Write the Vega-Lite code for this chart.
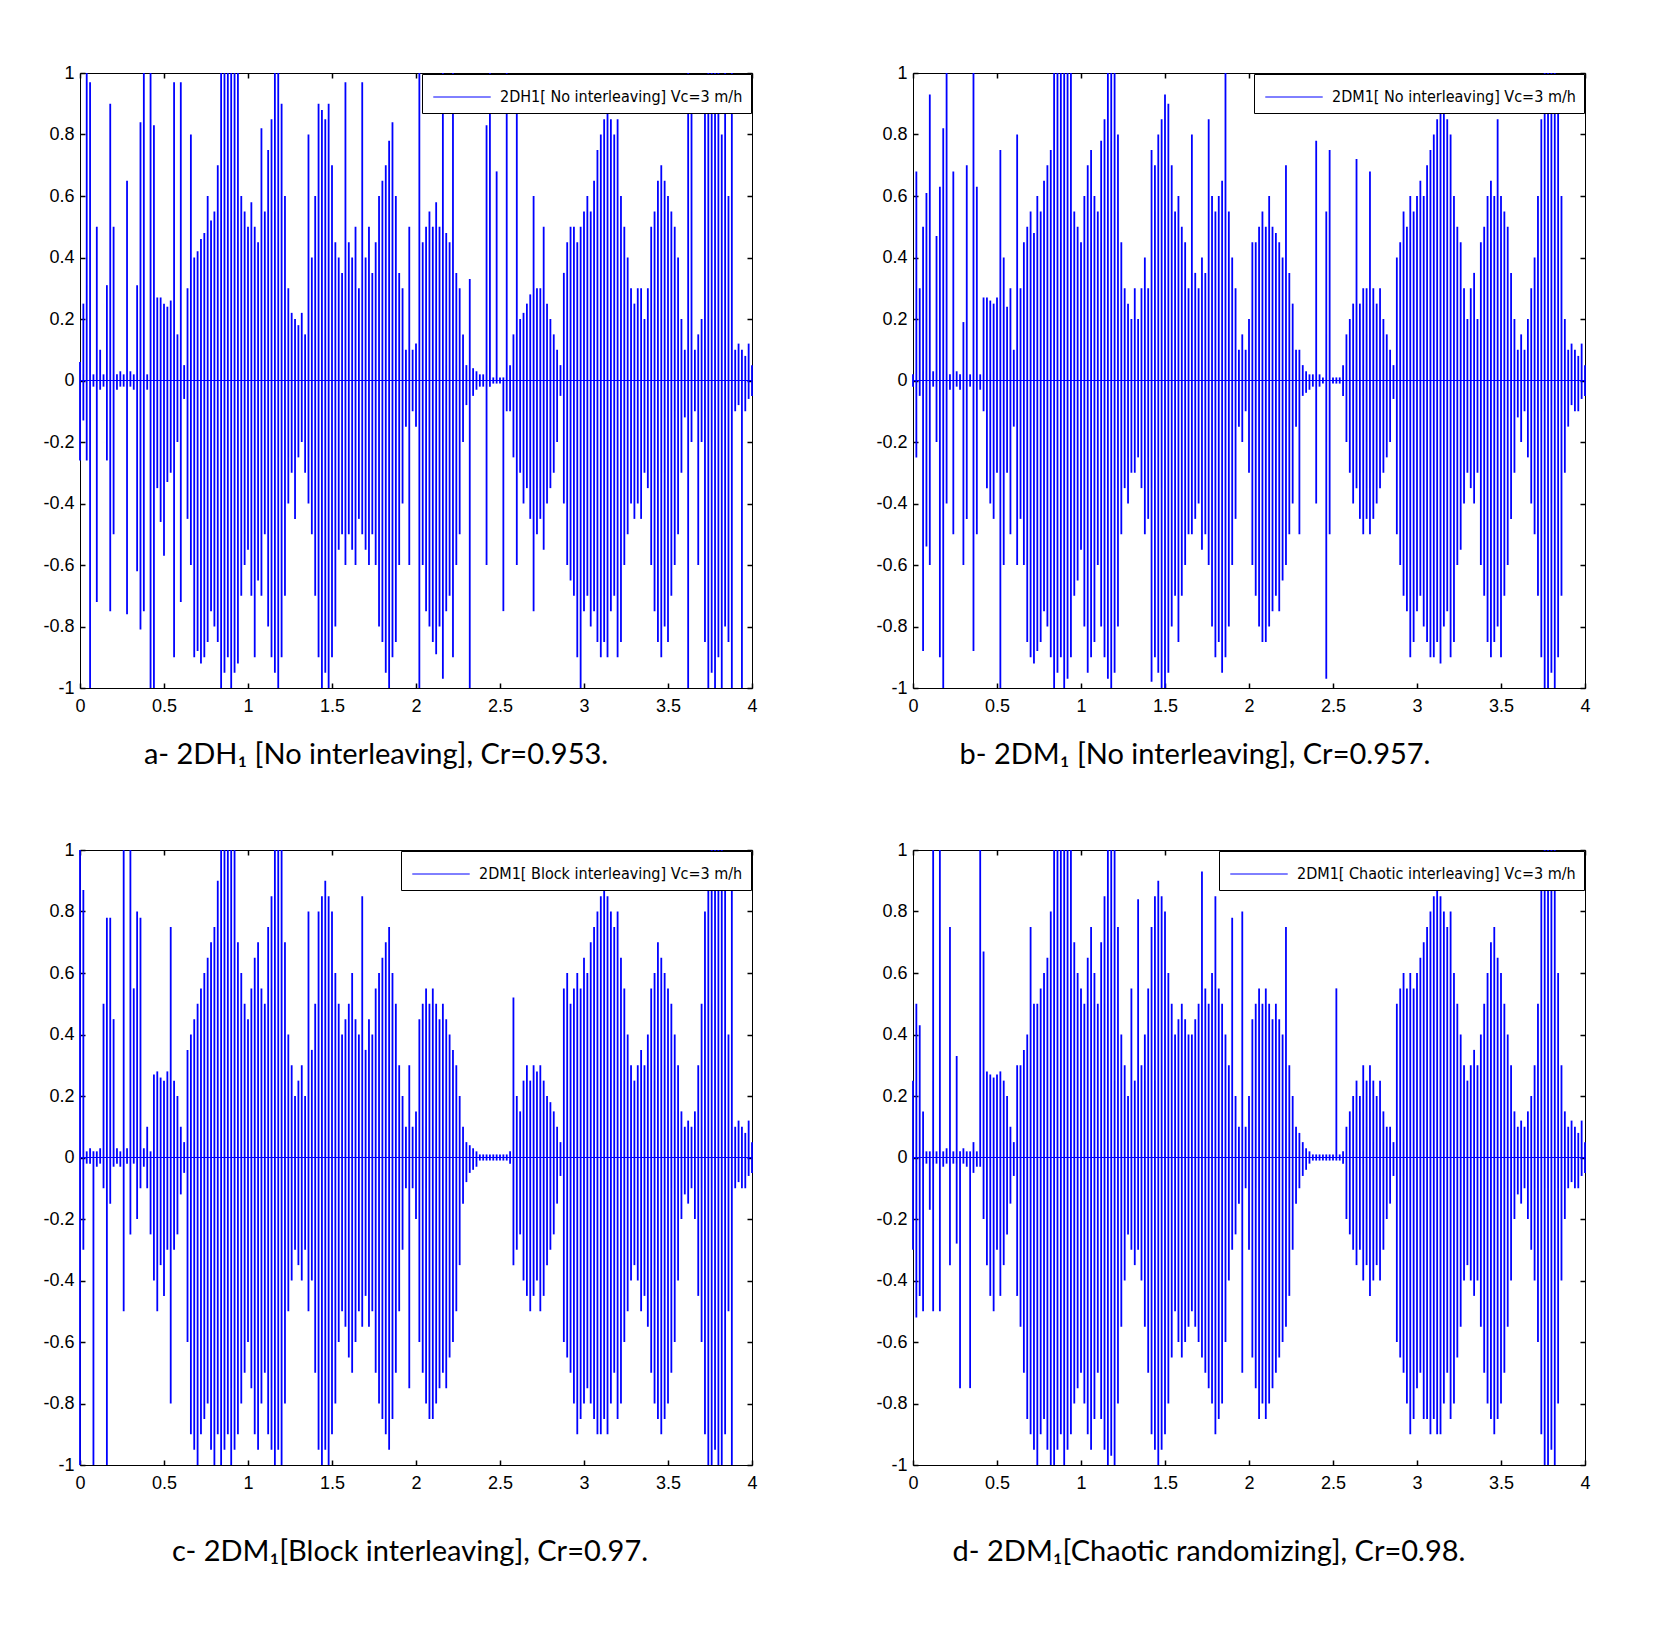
{
  "$schema": "https://vega.github.io/schema/vega-lite/v6.json",
  "background": "#ffffff",
  "padding": {"left": 42, "top": 64, "right": 5, "bottom": 5},
  "columns": 2,
  "spacing": {"column": 161, "row": 162},
  "bounds": "flush",
  "resolve": {"scale": {"color": "independent"}, "legend": {"color": "independent"}},
  "config": {
    "view": {"stroke": null},
    "axis": {
      "grid": false,
      "domainColor": "#000000",
      "domainWidth": 1,
      "tickColor": "#000000",
      "tickSize": -5,
      "tickWidth": 1.5,
      "labelColor": "#000000",
      "labelFont": "Liberation Sans",
      "labelFontSize": 18,
      "labelOverlap": false,
      "labelFlush": false
    },
    "legend": {
      "orient": "top-right",
      "offset": 1,
      "strokeColor": "#000000",
      "fillColor": "#ffffff",
      "padding": 8,
      "symbolType": "M-2,0H2",
      "symbolSize": 825,
      "symbolOffset": 17,
      "symbolStrokeWidth": 1,
      "labelFont": "Liberation Sans Narrow, DejaVu Sans Condensed, Liberation Sans",
      "labelFontSize": 16,
      "labelColor": "#000000",
      "labelLimit": 400,
      "labelOffset": 23
    },
    "title": {"font": "Lato", "fontSize": 29, "fontWeight": "normal", "color": "#000000", "orient": "bottom", "anchor": "middle"}
  },
  "datasets": {
    "a": [
      {"t":0.00,"hi":0.06,"lo":-0.26},{"t":0.02,"hi":0.25,"lo":-0.13},{"t":0.04,"hi":1.0,"lo":-0.26},{"t":0.06,"hi":0.97,"lo":-1.0},{"t":0.08,"hi":0.02,"lo":-0.02},
      {"t":0.10,"hi":0.5,"lo":-0.72},{"t":0.12,"hi":0.1,"lo":-0.03},{"t":0.14,"hi":0.02,"lo":-0.02},{"t":0.16,"hi":0.31,"lo":-0.26},{"t":0.18,"hi":0.9,"lo":-0.75},
      {"t":0.20,"hi":0.5,"lo":-0.5},{"t":0.22,"hi":0.02,"lo":-0.03},{"t":0.24,"hi":0.03,"lo":-0.02},{"t":0.26,"hi":0.02,"lo":-0.02},{"t":0.28,"hi":0.65,"lo":-0.76},
      {"t":0.30,"hi":0.03,"lo":-0.02},{"t":0.32,"hi":0.02,"lo":-0.03},{"t":0.34,"hi":0.31,"lo":-0.62},{"t":0.36,"hi":0.84,"lo":-0.81},{"t":0.38,"hi":1.0,"lo":-0.75},
      {"t":0.40,"hi":0.02,"lo":-0.03},{"t":0.42,"hi":1.0,"lo":-1.0},{"t":0.44,"hi":0.83,"lo":-1.0},{"t":0.46,"hi":0.27,"lo":-0.35},{"t":0.48,"hi":0.27,"lo":-0.46},
      {"t":0.50,"hi":0.25,"lo":-0.57},{"t":0.52,"hi":0.24,"lo":-0.33},{"t":0.54,"hi":0.26,"lo":-0.3},{"t":0.56,"hi":0.97,"lo":-0.9},{"t":0.58,"hi":0.15,"lo":-0.2},
      {"t":0.60,"hi":0.97,"lo":-0.72},{"t":0.62,"hi":0.05,"lo":-0.06},{"t":0.64,"hi":0.3,"lo":-0.45},{"t":0.66,"hi":0.8,"lo":-0.6},{"t":0.68,"hi":0.4,"lo":-0.9},
      {"t":0.70,"hi":0.42,"lo":-0.88},{"t":0.72,"hi":0.46,"lo":-0.92},{"t":0.74,"hi":0.48,"lo":-0.9},{"t":0.76,"hi":0.6,"lo":-0.85},{"t":0.78,"hi":0.52,"lo":-0.75},
      {"t":0.80,"hi":0.55,"lo":-0.8},{"t":0.82,"hi":0.7,"lo":-0.85},{"t":0.84,"hi":1.0,"lo":-1.0},{"t":0.86,"hi":1.0,"lo":-0.95},{"t":0.88,"hi":1.0,"lo":-0.9},
      {"t":0.90,"hi":1.0,"lo":-1.0},{"t":0.92,"hi":1.0,"lo":-0.95},{"t":0.94,"hi":1.0,"lo":-0.92},{"t":0.96,"hi":0.6,"lo":-0.7},{"t":0.98,"hi":0.55,"lo":-0.6},
      {"t":1.00,"hi":0.5,"lo":-0.55},{"t":1.02,"hi":0.58,"lo":-0.7},{"t":1.04,"hi":0.5,"lo":-0.9},{"t":1.06,"hi":0.45,"lo":-0.65},{"t":1.08,"hi":0.82,"lo":-0.7},
      {"t":1.10,"hi":0.55,"lo":-0.5},{"t":1.12,"hi":0.75,"lo":-0.8},{"t":1.14,"hi":0.85,"lo":-0.9},{"t":1.16,"hi":1.0,"lo":-0.95},{"t":1.18,"hi":1.0,"lo":-1.0},
      {"t":1.20,"hi":0.9,"lo":-0.9},{"t":1.22,"hi":0.6,"lo":-0.7},{"t":1.24,"hi":0.3,"lo":-0.4},{"t":1.26,"hi":0.22,"lo":-0.3},{"t":1.28,"hi":0.2,"lo":-0.45},
      {"t":1.30,"hi":0.18,"lo":-0.25},{"t":1.32,"hi":0.22,"lo":-0.2},{"t":1.34,"hi":0.15,"lo":-0.3},{"t":1.36,"hi":0.8,"lo":-0.4},{"t":1.38,"hi":0.4,"lo":-0.5},
      {"t":1.40,"hi":0.6,"lo":-0.7},{"t":1.42,"hi":0.9,"lo":-0.9},{"t":1.44,"hi":0.88,"lo":-1.0},{"t":1.46,"hi":0.85,"lo":-0.95},{"t":1.48,"hi":0.9,"lo":-1.0},
      {"t":1.50,"hi":0.7,"lo":-0.9},{"t":1.52,"hi":0.45,"lo":-0.8},{"t":1.54,"hi":0.4,"lo":-0.55},{"t":1.56,"hi":0.35,"lo":-0.5},{"t":1.58,"hi":0.97,"lo":-0.6},
      {"t":1.60,"hi":0.45,"lo":-0.5},{"t":1.62,"hi":0.4,"lo":-0.55},{"t":1.64,"hi":0.5,"lo":-0.6},{"t":1.66,"hi":0.3,"lo":-0.45},{"t":1.68,"hi":0.97,"lo":-0.5},
      {"t":1.70,"hi":0.4,"lo":-0.55},{"t":1.72,"hi":0.5,"lo":-0.6},{"t":1.74,"hi":0.35,"lo":-0.5},{"t":1.76,"hi":0.45,"lo":-0.6},{"t":1.78,"hi":0.6,"lo":-0.8},
      {"t":1.80,"hi":0.65,"lo":-0.85},{"t":1.82,"hi":0.7,"lo":-0.95},{"t":1.84,"hi":0.78,"lo":-1.0},{"t":1.86,"hi":0.84,"lo":-0.9},{"t":1.88,"hi":0.6,"lo":-0.85},
      {"t":1.90,"hi":0.35,"lo":-0.6},{"t":1.92,"hi":0.3,"lo":-0.4},{"t":1.94,"hi":0.1,"lo":-0.15},{"t":1.96,"hi":0.5,"lo":-0.6},{"t":1.98,"hi":0.1,"lo":-0.1},
      {"t":2.00,"hi":0.12,"lo":-0.15},{"t":2.02,"hi":1.0,"lo":-1.0},{"t":2.04,"hi":0.45,"lo":-0.6},{"t":2.06,"hi":0.5,"lo":-0.75},{"t":2.08,"hi":0.55,"lo":-0.8},
      {"t":2.10,"hi":0.5,"lo":-0.85},{"t":2.12,"hi":0.58,"lo":-0.89},{"t":2.14,"hi":0.5,"lo":-0.8},{"t":2.16,"hi":1.0,"lo":-0.97},{"t":2.18,"hi":0.48,"lo":-0.75},
      {"t":2.20,"hi":0.45,"lo":-0.7},{"t":2.22,"hi":1.0,"lo":-0.9},{"t":2.24,"hi":0.35,"lo":-0.6},{"t":2.26,"hi":0.3,"lo":-0.5},{"t":2.28,"hi":0.15,"lo":-0.2},
      {"t":2.30,"hi":0.05,"lo":-0.08},{"t":2.32,"hi":0.33,"lo":-1.0},{"t":2.34,"hi":0.04,"lo":-0.05},{"t":2.36,"hi":0.03,"lo":-0.03},{"t":2.38,"hi":0.02,"lo":-0.02},
      {"t":2.40,"hi":0.02,"lo":-0.02},{"t":2.42,"hi":0.83,"lo":-0.6},{"t":2.44,"hi":1.0,"lo":-0.02},{"t":2.46,"hi":0.01,"lo":-0.01},{"t":2.48,"hi":0.68,"lo":-0.01},
      {"t":2.50,"hi":0.01,"lo":-0.01},{"t":2.52,"hi":0.01,"lo":-0.75},{"t":2.54,"hi":1.0,"lo":-0.1},{"t":2.56,"hi":0.05,"lo":-0.1},{"t":2.58,"hi":0.15,"lo":-0.25},
      {"t":2.60,"hi":0.97,"lo":-0.6},{"t":2.62,"hi":0.2,"lo":-0.3},{"t":2.64,"hi":0.22,"lo":-0.4},{"t":2.66,"hi":0.25,"lo":-0.35},{"t":2.68,"hi":0.28,"lo":-0.45},
      {"t":2.70,"hi":0.6,"lo":-0.75},{"t":2.72,"hi":0.3,"lo":-0.5},{"t":2.74,"hi":0.3,"lo":-0.45},{"t":2.76,"hi":0.5,"lo":-0.55},{"t":2.78,"hi":0.25,"lo":-0.4},
      {"t":2.80,"hi":0.2,"lo":-0.35},{"t":2.82,"hi":0.15,"lo":-0.3},{"t":2.84,"hi":0.1,"lo":-0.2},{"t":2.86,"hi":0.05,"lo":-0.05},{"t":2.88,"hi":0.35,"lo":-0.4},
      {"t":2.90,"hi":0.45,"lo":-0.6},{"t":2.92,"hi":0.5,"lo":-0.65},{"t":2.94,"hi":0.5,"lo":-0.7},{"t":2.96,"hi":0.45,"lo":-0.9},{"t":2.98,"hi":0.5,"lo":-1.0},
      {"t":3.00,"hi":0.55,"lo":-0.75},{"t":3.02,"hi":0.6,"lo":-0.7},{"t":3.04,"hi":0.55,"lo":-0.8},{"t":3.06,"hi":0.65,"lo":-0.75},{"t":3.08,"hi":0.75,"lo":-0.85},
      {"t":3.10,"hi":0.8,"lo":-0.9},{"t":3.12,"hi":0.85,"lo":-0.85},{"t":3.14,"hi":0.88,"lo":-0.9},{"t":3.16,"hi":0.85,"lo":-0.75},{"t":3.18,"hi":0.8,"lo":-0.7},
      {"t":3.20,"hi":0.85,"lo":-0.9},{"t":3.22,"hi":0.6,"lo":-0.85},{"t":3.24,"hi":0.5,"lo":-0.6},{"t":3.26,"hi":0.4,"lo":-0.5},{"t":3.28,"hi":0.3,"lo":-0.4},
      {"t":3.30,"hi":0.25,"lo":-0.45},{"t":3.32,"hi":0.3,"lo":-0.4},{"t":3.34,"hi":0.3,"lo":-0.45},{"t":3.36,"hi":0.2,"lo":-0.3},{"t":3.38,"hi":0.3,"lo":-0.35},
      {"t":3.40,"hi":0.5,"lo":-0.6},{"t":3.42,"hi":0.55,"lo":-0.75},{"t":3.44,"hi":0.65,"lo":-0.85},{"t":3.46,"hi":0.7,"lo":-0.9},{"t":3.48,"hi":0.65,"lo":-0.8},
      {"t":3.50,"hi":0.6,"lo":-0.85},{"t":3.52,"hi":0.55,"lo":-0.7},{"t":3.54,"hi":0.5,"lo":-0.6},{"t":3.56,"hi":0.4,"lo":-0.5},{"t":3.58,"hi":0.2,"lo":-0.3},
      {"t":3.60,"hi":0.1,"lo":-0.12},{"t":3.62,"hi":1.0,"lo":-1.0},{"t":3.64,"hi":0.97,"lo":-0.2},{"t":3.66,"hi":0.1,"lo":-0.1},{"t":3.68,"hi":0.15,"lo":-0.6},
      {"t":3.70,"hi":0.2,"lo":-0.2},{"t":3.72,"hi":0.9,"lo":-0.85},{"t":3.74,"hi":1.0,"lo":-1.0},{"t":3.76,"hi":1.0,"lo":-0.95},{"t":3.78,"hi":1.0,"lo":-1.0},
      {"t":3.80,"hi":1.0,"lo":-0.9},{"t":3.82,"hi":0.8,"lo":-1.0},{"t":3.84,"hi":1.0,"lo":-0.8},{"t":3.86,"hi":0.6,"lo":-0.85},{"t":3.88,"hi":1.0,"lo":-1.0},
      {"t":3.90,"hi":0.1,"lo":-0.1},{"t":3.92,"hi":0.12,"lo":-0.08},{"t":3.94,"hi":0.1,"lo":-1.0},{"t":3.96,"hi":0.08,"lo":-0.1},{"t":3.98,"hi":0.12,"lo":-0.06},
      {"t":4.00,"hi":0.05,"lo":-0.05}
    ],
    "b": [
      {"t":0.00,"hi":0.02,"lo":-0.02},{"t":0.02,"hi":0.68,"lo":-0.25},{"t":0.04,"hi":0.3,"lo":-0.05},{"t":0.06,"hi":0.5,"lo":-0.88},{"t":0.08,"hi":0.61,"lo":-0.54},
      {"t":0.10,"hi":0.93,"lo":-0.6},{"t":0.12,"hi":0.03,"lo":-0.02},{"t":0.14,"hi":0.47,"lo":-0.2},{"t":0.16,"hi":0.63,"lo":-0.9},{"t":0.18,"hi":0.82,"lo":-1.0},
      {"t":0.20,"hi":1.0,"lo":-0.4},{"t":0.22,"hi":0.02,"lo":-0.03},{"t":0.24,"hi":0.68,"lo":-0.5},{"t":0.26,"hi":0.03,"lo":-0.02},{"t":0.28,"hi":0.02,"lo":-0.03},
      {"t":0.30,"hi":0.19,"lo":-0.6},{"t":0.32,"hi":0.7,"lo":-0.45},{"t":0.34,"hi":0.02,"lo":-0.02},{"t":0.36,"hi":1.0,"lo":-0.88},{"t":0.38,"hi":0.63,"lo":-0.5},
      {"t":0.40,"hi":0.02,"lo":-0.03},{"t":0.42,"hi":0.27,"lo":-0.1},{"t":0.44,"hi":0.27,"lo":-0.35},{"t":0.46,"hi":0.26,"lo":-0.4},{"t":0.48,"hi":0.25,"lo":-0.45},
      {"t":0.50,"hi":0.27,"lo":-0.3},{"t":0.52,"hi":0.75,"lo":-1.0},{"t":0.54,"hi":0.4,"lo":-0.6},{"t":0.56,"hi":0.24,"lo":-0.3},{"t":0.58,"hi":0.3,"lo":-0.5},
      {"t":0.60,"hi":0.1,"lo":-0.15},{"t":0.62,"hi":0.8,"lo":-0.6},{"t":0.64,"hi":0.3,"lo":-0.45},{"t":0.66,"hi":0.45,"lo":-0.6},{"t":0.68,"hi":0.5,"lo":-0.85},
      {"t":0.70,"hi":0.55,"lo":-0.9},{"t":0.72,"hi":0.48,"lo":-0.92},{"t":0.74,"hi":0.6,"lo":-0.88},{"t":0.76,"hi":0.55,"lo":-0.85},{"t":0.78,"hi":0.65,"lo":-0.75},
      {"t":0.80,"hi":0.7,"lo":-0.8},{"t":0.82,"hi":0.75,"lo":-0.9},{"t":0.84,"hi":1.0,"lo":-1.0},{"t":0.86,"hi":1.0,"lo":-0.95},{"t":0.88,"hi":1.0,"lo":-0.9},
      {"t":0.90,"hi":1.0,"lo":-1.0},{"t":0.92,"hi":1.0,"lo":-0.97},{"t":0.94,"hi":1.0,"lo":-0.9},{"t":0.96,"hi":0.55,"lo":-0.7},{"t":0.98,"hi":0.5,"lo":-0.65},
      {"t":1.00,"hi":0.45,"lo":-0.55},{"t":1.02,"hi":0.6,"lo":-0.8},{"t":1.04,"hi":0.7,"lo":-0.95},{"t":1.06,"hi":0.75,"lo":-0.9},{"t":1.08,"hi":0.6,"lo":-0.85},
      {"t":1.10,"hi":0.55,"lo":-0.6},{"t":1.12,"hi":0.78,"lo":-0.8},{"t":1.14,"hi":0.85,"lo":-0.9},{"t":1.16,"hi":1.0,"lo":-0.97},{"t":1.18,"hi":1.0,"lo":-1.0},
      {"t":1.20,"hi":1.0,"lo":-0.95},{"t":1.22,"hi":0.8,"lo":-0.8},{"t":1.24,"hi":0.45,"lo":-0.5},{"t":1.26,"hi":0.3,"lo":-0.35},{"t":1.28,"hi":0.25,"lo":-0.4},
      {"t":1.30,"hi":0.2,"lo":-0.3},{"t":1.32,"hi":0.3,"lo":-0.3},{"t":1.34,"hi":0.2,"lo":-0.25},{"t":1.36,"hi":0.3,"lo":-0.35},{"t":1.38,"hi":0.4,"lo":-0.5},
      {"t":1.40,"hi":0.3,"lo":-0.45},{"t":1.42,"hi":0.75,"lo":-0.98},{"t":1.44,"hi":0.7,"lo":-0.9},{"t":1.46,"hi":0.8,"lo":-0.95},{"t":1.48,"hi":0.85,"lo":-1.0},
      {"t":1.50,"hi":0.93,"lo":-1.0},{"t":1.52,"hi":0.9,"lo":-0.95},{"t":1.54,"hi":0.7,"lo":-0.8},{"t":1.56,"hi":0.55,"lo":-0.7},{"t":1.58,"hi":0.6,"lo":-0.85},
      {"t":1.60,"hi":0.5,"lo":-0.7},{"t":1.62,"hi":0.45,"lo":-0.6},{"t":1.64,"hi":0.3,"lo":-0.5},{"t":1.66,"hi":0.8,"lo":-0.5},{"t":1.68,"hi":0.35,"lo":-0.45},
      {"t":1.70,"hi":0.3,"lo":-0.4},{"t":1.72,"hi":0.4,"lo":-0.55},{"t":1.74,"hi":0.35,"lo":-0.5},{"t":1.76,"hi":0.85,"lo":-0.6},{"t":1.78,"hi":0.6,"lo":-0.8},
      {"t":1.80,"hi":0.55,"lo":-0.9},{"t":1.82,"hi":0.6,"lo":-0.85},{"t":1.84,"hi":0.65,"lo":-0.95},{"t":1.86,"hi":1.0,"lo":-0.9},{"t":1.88,"hi":0.55,"lo":-0.8},
      {"t":1.90,"hi":0.4,"lo":-0.6},{"t":1.92,"hi":0.3,"lo":-0.45},{"t":1.94,"hi":0.1,"lo":-0.15},{"t":1.96,"hi":0.15,"lo":-0.2},{"t":1.98,"hi":0.1,"lo":-0.1},
      {"t":2.00,"hi":0.2,"lo":-0.3},{"t":2.02,"hi":0.45,"lo":-0.6},{"t":2.04,"hi":0.45,"lo":-0.7},{"t":2.06,"hi":0.5,"lo":-0.8},{"t":2.08,"hi":0.55,"lo":-0.85},
      {"t":2.10,"hi":0.5,"lo":-0.85},{"t":2.12,"hi":0.6,"lo":-0.8},{"t":2.14,"hi":0.5,"lo":-0.75},{"t":2.16,"hi":0.48,"lo":-0.7},{"t":2.18,"hi":0.45,"lo":-0.75},
      {"t":2.20,"hi":0.4,"lo":-0.65},{"t":2.22,"hi":0.7,"lo":-0.6},{"t":2.24,"hi":0.35,"lo":-0.5},{"t":2.26,"hi":0.25,"lo":-0.4},{"t":2.28,"hi":0.1,"lo":-0.15},
      {"t":2.30,"hi":0.1,"lo":-0.5},{"t":2.32,"hi":0.05,"lo":-0.05},{"t":2.34,"hi":0.03,"lo":-0.04},{"t":2.36,"hi":0.02,"lo":-0.03},{"t":2.38,"hi":0.02,"lo":-0.02},
      {"t":2.40,"hi":0.78,"lo":-0.4},{"t":2.42,"hi":0.02,"lo":-0.02},{"t":2.44,"hi":0.01,"lo":-0.01},{"t":2.46,"hi":0.55,"lo":-0.97},{"t":2.48,"hi":0.75,"lo":-0.5},
      {"t":2.50,"hi":0.01,"lo":-0.01},{"t":2.52,"hi":0.01,"lo":-0.01},{"t":2.54,"hi":0.01,"lo":-0.01},{"t":2.56,"hi":0.05,"lo":-0.05},{"t":2.58,"hi":0.15,"lo":-0.2},
      {"t":2.60,"hi":0.2,"lo":-0.3},{"t":2.62,"hi":0.25,"lo":-0.4},{"t":2.64,"hi":0.72,"lo":-0.35},{"t":2.66,"hi":0.25,"lo":-0.45},{"t":2.68,"hi":0.3,"lo":-0.5},
      {"t":2.70,"hi":0.3,"lo":-0.45},{"t":2.72,"hi":0.68,"lo":-0.5},{"t":2.74,"hi":0.3,"lo":-0.45},{"t":2.76,"hi":0.25,"lo":-0.4},{"t":2.78,"hi":0.3,"lo":-0.35},
      {"t":2.80,"hi":0.2,"lo":-0.3},{"t":2.82,"hi":0.15,"lo":-0.25},{"t":2.84,"hi":0.1,"lo":-0.2},{"t":2.86,"hi":0.05,"lo":-0.06},{"t":2.88,"hi":0.4,"lo":-0.5},
      {"t":2.90,"hi":0.45,"lo":-0.6},{"t":2.92,"hi":0.55,"lo":-0.7},{"t":2.94,"hi":0.5,"lo":-0.75},{"t":2.96,"hi":0.6,"lo":-0.9},{"t":2.98,"hi":0.55,"lo":-0.85},
      {"t":3.00,"hi":0.6,"lo":-0.75},{"t":3.02,"hi":0.65,"lo":-0.7},{"t":3.04,"hi":0.6,"lo":-0.8},{"t":3.06,"hi":0.7,"lo":-0.85},{"t":3.08,"hi":0.75,"lo":-0.9},
      {"t":3.10,"hi":0.8,"lo":-0.9},{"t":3.12,"hi":0.85,"lo":-0.85},{"t":3.14,"hi":0.88,"lo":-0.92},{"t":3.16,"hi":0.9,"lo":-0.8},{"t":3.18,"hi":0.85,"lo":-0.75},
      {"t":3.20,"hi":0.8,"lo":-0.9},{"t":3.22,"hi":0.6,"lo":-0.85},{"t":3.24,"hi":0.5,"lo":-0.6},{"t":3.26,"hi":0.45,"lo":-0.55},{"t":3.28,"hi":0.3,"lo":-0.4},
      {"t":3.30,"hi":0.2,"lo":-0.3},{"t":3.32,"hi":0.3,"lo":-0.35},{"t":3.34,"hi":0.35,"lo":-0.4},{"t":3.36,"hi":0.2,"lo":-0.3},{"t":3.38,"hi":0.45,"lo":-0.6},
      {"t":3.40,"hi":0.5,"lo":-0.7},{"t":3.42,"hi":0.6,"lo":-0.85},{"t":3.44,"hi":0.65,"lo":-0.9},{"t":3.46,"hi":0.6,"lo":-0.85},{"t":3.48,"hi":0.85,"lo":-0.8},
      {"t":3.50,"hi":0.6,"lo":-0.9},{"t":3.52,"hi":0.55,"lo":-0.7},{"t":3.54,"hi":0.5,"lo":-0.6},{"t":3.56,"hi":0.35,"lo":-0.45},{"t":3.58,"hi":0.2,"lo":-0.3},
      {"t":3.60,"hi":0.1,"lo":-0.12},{"t":3.62,"hi":0.15,"lo":-0.2},{"t":3.64,"hi":0.1,"lo":-0.1},{"t":3.66,"hi":0.2,"lo":-0.25},{"t":3.68,"hi":0.3,"lo":-0.4},
      {"t":3.70,"hi":0.4,"lo":-0.5},{"t":3.72,"hi":0.6,"lo":-0.7},{"t":3.74,"hi":0.85,"lo":-0.9},{"t":3.76,"hi":1.0,"lo":-1.0},{"t":3.78,"hi":1.0,"lo":-1.0},
      {"t":3.80,"hi":1.0,"lo":-0.95},{"t":3.82,"hi":1.0,"lo":-1.0},{"t":3.84,"hi":0.9,"lo":-0.9},{"t":3.86,"hi":0.6,"lo":-0.7},{"t":3.88,"hi":0.2,"lo":-0.3},
      {"t":3.90,"hi":0.1,"lo":-0.15},{"t":3.92,"hi":0.12,"lo":-0.08},{"t":3.94,"hi":0.1,"lo":-0.1},{"t":3.96,"hi":0.08,"lo":-0.1},{"t":3.98,"hi":0.12,"lo":-0.06},
      {"t":4.00,"hi":0.05,"lo":-0.05}
    ],
    "c": [
      {"t":0.00,"hi":1.0,"lo":-1.0},{"t":0.02,"hi":0.87,"lo":-0.3},{"t":0.04,"hi":0.02,"lo":-0.02},{"t":0.06,"hi":0.03,"lo":-0.02},{"t":0.08,"hi":0.02,"lo":-1.0},
      {"t":0.10,"hi":0.02,"lo":-0.03},{"t":0.12,"hi":0.03,"lo":-0.02},{"t":0.14,"hi":0.5,"lo":-0.1},{"t":0.16,"hi":0.78,"lo":-1.0},{"t":0.18,"hi":0.78,"lo":-0.15},
      {"t":0.20,"hi":0.45,"lo":-0.03},{"t":0.22,"hi":0.03,"lo":-0.02},{"t":0.24,"hi":0.02,"lo":-0.03},{"t":0.26,"hi":1.0,"lo":-0.5},{"t":0.28,"hi":0.03,"lo":-0.02},
      {"t":0.30,"hi":1.0,"lo":-0.25},{"t":0.32,"hi":0.55,"lo":-0.02},{"t":0.34,"hi":0.8,"lo":-0.2},{"t":0.36,"hi":0.78,"lo":-0.1},{"t":0.38,"hi":0.03,"lo":-0.03},
      {"t":0.40,"hi":0.1,"lo":-0.1},{"t":0.42,"hi":0.02,"lo":-0.25},{"t":0.44,"hi":0.27,"lo":-0.4},{"t":0.46,"hi":0.28,"lo":-0.5},{"t":0.48,"hi":0.26,"lo":-0.35},
      {"t":0.50,"hi":0.25,"lo":-0.45},{"t":0.52,"hi":0.28,"lo":-0.3},{"t":0.54,"hi":0.75,"lo":-0.8},{"t":0.56,"hi":0.25,"lo":-0.3},{"t":0.58,"hi":0.2,"lo":-0.25},
      {"t":0.60,"hi":0.1,"lo":-0.12},{"t":0.62,"hi":0.05,"lo":-0.05},{"t":0.64,"hi":0.35,"lo":-0.6},{"t":0.66,"hi":0.4,"lo":-0.9},{"t":0.68,"hi":0.45,"lo":-0.95},
      {"t":0.70,"hi":0.5,"lo":-1.0},{"t":0.72,"hi":0.55,"lo":-0.9},{"t":0.74,"hi":0.6,"lo":-0.85},{"t":0.76,"hi":0.65,"lo":-0.8},{"t":0.78,"hi":0.7,"lo":-0.95},
      {"t":0.80,"hi":0.75,"lo":-1.0},{"t":0.82,"hi":0.9,"lo":-0.9},{"t":0.84,"hi":1.0,"lo":-1.0},{"t":0.86,"hi":1.0,"lo":-0.95},{"t":0.88,"hi":1.0,"lo":-0.9},
      {"t":0.90,"hi":1.0,"lo":-1.0},{"t":0.92,"hi":1.0,"lo":-0.95},{"t":0.94,"hi":0.7,"lo":-0.9},{"t":0.96,"hi":0.6,"lo":-0.8},{"t":0.98,"hi":0.5,"lo":-0.7},
      {"t":1.00,"hi":0.45,"lo":-0.6},{"t":1.02,"hi":0.55,"lo":-0.75},{"t":1.04,"hi":0.65,"lo":-0.9},{"t":1.06,"hi":0.7,"lo":-0.95},{"t":1.08,"hi":0.55,"lo":-0.8},
      {"t":1.10,"hi":0.5,"lo":-0.7},{"t":1.12,"hi":0.75,"lo":-0.9},{"t":1.14,"hi":0.85,"lo":-0.95},{"t":1.16,"hi":1.0,"lo":-1.0},{"t":1.18,"hi":1.0,"lo":-0.95},
      {"t":1.20,"hi":1.0,"lo":-1.0},{"t":1.22,"hi":0.7,"lo":-0.8},{"t":1.24,"hi":0.4,"lo":-0.5},{"t":1.26,"hi":0.3,"lo":-0.4},{"t":1.28,"hi":0.2,"lo":-0.3},
      {"t":1.30,"hi":0.25,"lo":-0.35},{"t":1.32,"hi":0.3,"lo":-0.4},{"t":1.34,"hi":0.2,"lo":-0.3},{"t":1.36,"hi":0.8,"lo":-0.5},{"t":1.38,"hi":0.35,"lo":-0.4},
      {"t":1.40,"hi":0.5,"lo":-0.7},{"t":1.42,"hi":0.8,"lo":-0.95},{"t":1.44,"hi":0.85,"lo":-1.0},{"t":1.46,"hi":0.9,"lo":-0.95},{"t":1.48,"hi":0.85,"lo":-1.0},
      {"t":1.50,"hi":0.8,"lo":-0.9},{"t":1.52,"hi":0.6,"lo":-0.8},{"t":1.54,"hi":0.5,"lo":-0.6},{"t":1.56,"hi":0.4,"lo":-0.5},{"t":1.58,"hi":0.45,"lo":-0.55},
      {"t":1.60,"hi":0.5,"lo":-0.65},{"t":1.62,"hi":0.6,"lo":-0.7},{"t":1.64,"hi":0.45,"lo":-0.6},{"t":1.66,"hi":0.4,"lo":-0.5},{"t":1.68,"hi":0.85,"lo":-0.55},
      {"t":1.70,"hi":0.35,"lo":-0.45},{"t":1.72,"hi":0.45,"lo":-0.55},{"t":1.74,"hi":0.4,"lo":-0.5},{"t":1.76,"hi":0.55,"lo":-0.7},{"t":1.78,"hi":0.6,"lo":-0.8},
      {"t":1.80,"hi":0.65,"lo":-0.85},{"t":1.82,"hi":0.7,"lo":-0.9},{"t":1.84,"hi":0.75,"lo":-0.95},{"t":1.86,"hi":0.6,"lo":-0.85},{"t":1.88,"hi":0.5,"lo":-0.7},
      {"t":1.90,"hi":0.3,"lo":-0.5},{"t":1.92,"hi":0.2,"lo":-0.3},{"t":1.94,"hi":0.1,"lo":-0.1},{"t":1.96,"hi":0.3,"lo":-0.75},{"t":1.98,"hi":0.1,"lo":-0.1},
      {"t":2.00,"hi":0.15,"lo":-0.2},{"t":2.02,"hi":0.45,"lo":-0.6},{"t":2.04,"hi":0.5,"lo":-0.7},{"t":2.06,"hi":0.55,"lo":-0.8},{"t":2.08,"hi":0.5,"lo":-0.85},
      {"t":2.10,"hi":0.55,"lo":-0.85},{"t":2.12,"hi":0.5,"lo":-0.8},{"t":2.14,"hi":0.45,"lo":-0.75},{"t":2.16,"hi":0.5,"lo":-0.7},{"t":2.18,"hi":0.45,"lo":-0.75},
      {"t":2.20,"hi":0.4,"lo":-0.65},{"t":2.22,"hi":0.35,"lo":-0.6},{"t":2.24,"hi":0.3,"lo":-0.5},{"t":2.26,"hi":0.2,"lo":-0.35},{"t":2.28,"hi":0.1,"lo":-0.15},
      {"t":2.30,"hi":0.05,"lo":-0.08},{"t":2.32,"hi":0.04,"lo":-0.05},{"t":2.34,"hi":0.03,"lo":-0.04},{"t":2.36,"hi":0.02,"lo":-0.03},{"t":2.38,"hi":0.01,"lo":-0.01},
      {"t":2.40,"hi":0.01,"lo":-0.01},{"t":2.42,"hi":0.01,"lo":-0.01},{"t":2.44,"hi":0.01,"lo":-0.01},{"t":2.46,"hi":0.01,"lo":-0.01},{"t":2.48,"hi":0.01,"lo":-0.01},
      {"t":2.50,"hi":0.01,"lo":-0.01},{"t":2.52,"hi":0.01,"lo":-0.01},{"t":2.54,"hi":0.01,"lo":-0.01},{"t":2.56,"hi":0.02,"lo":-0.02},{"t":2.58,"hi":0.52,"lo":-0.35},
      {"t":2.60,"hi":0.2,"lo":-0.3},{"t":2.62,"hi":0.15,"lo":-0.25},{"t":2.64,"hi":0.25,"lo":-0.4},{"t":2.66,"hi":0.3,"lo":-0.45},{"t":2.68,"hi":0.25,"lo":-0.5},
      {"t":2.70,"hi":0.3,"lo":-0.45},{"t":2.72,"hi":0.28,"lo":-0.4},{"t":2.74,"hi":0.3,"lo":-0.5},{"t":2.76,"hi":0.25,"lo":-0.45},{"t":2.78,"hi":0.2,"lo":-0.35},
      {"t":2.80,"hi":0.18,"lo":-0.3},{"t":2.82,"hi":0.15,"lo":-0.25},{"t":2.84,"hi":0.1,"lo":-0.15},{"t":2.86,"hi":0.05,"lo":-0.06},{"t":2.88,"hi":0.55,"lo":-0.6},
      {"t":2.90,"hi":0.6,"lo":-0.65},{"t":2.92,"hi":0.5,"lo":-0.7},{"t":2.94,"hi":0.55,"lo":-0.8},{"t":2.96,"hi":0.6,"lo":-0.9},{"t":2.98,"hi":0.55,"lo":-0.85},
      {"t":3.00,"hi":0.65,"lo":-0.8},{"t":3.02,"hi":0.6,"lo":-0.75},{"t":3.04,"hi":0.7,"lo":-0.8},{"t":3.06,"hi":0.75,"lo":-0.85},{"t":3.08,"hi":0.8,"lo":-0.9},
      {"t":3.10,"hi":0.85,"lo":-0.9},{"t":3.12,"hi":0.9,"lo":-0.85},{"t":3.14,"hi":0.85,"lo":-0.9},{"t":3.16,"hi":0.8,"lo":-0.8},{"t":3.18,"hi":0.75,"lo":-0.7},
      {"t":3.20,"hi":0.8,"lo":-0.85},{"t":3.22,"hi":0.65,"lo":-0.8},{"t":3.24,"hi":0.55,"lo":-0.6},{"t":3.26,"hi":0.4,"lo":-0.5},{"t":3.28,"hi":0.3,"lo":-0.4},
      {"t":3.30,"hi":0.25,"lo":-0.35},{"t":3.32,"hi":0.3,"lo":-0.4},{"t":3.34,"hi":0.35,"lo":-0.5},{"t":3.36,"hi":0.3,"lo":-0.45},{"t":3.38,"hi":0.4,"lo":-0.55},
      {"t":3.40,"hi":0.55,"lo":-0.7},{"t":3.42,"hi":0.6,"lo":-0.8},{"t":3.44,"hi":0.7,"lo":-0.85},{"t":3.46,"hi":0.65,"lo":-0.9},{"t":3.48,"hi":0.6,"lo":-0.85},
      {"t":3.50,"hi":0.55,"lo":-0.8},{"t":3.52,"hi":0.5,"lo":-0.7},{"t":3.54,"hi":0.4,"lo":-0.6},{"t":3.56,"hi":0.3,"lo":-0.4},{"t":3.58,"hi":0.15,"lo":-0.2},
      {"t":3.60,"hi":0.1,"lo":-0.12},{"t":3.62,"hi":0.12,"lo":-0.15},{"t":3.64,"hi":0.1,"lo":-0.1},{"t":3.66,"hi":0.15,"lo":-0.2},{"t":3.68,"hi":0.3,"lo":-0.45},
      {"t":3.70,"hi":0.5,"lo":-0.6},{"t":3.72,"hi":0.8,"lo":-0.9},{"t":3.74,"hi":0.9,"lo":-1.0},{"t":3.76,"hi":1.0,"lo":-1.0},{"t":3.78,"hi":1.0,"lo":-0.95},
      {"t":3.80,"hi":1.0,"lo":-1.0},{"t":3.82,"hi":1.0,"lo":-1.0},{"t":3.84,"hi":0.9,"lo":-0.9},{"t":3.86,"hi":0.4,"lo":-0.5},{"t":3.88,"hi":0.9,"lo":-1.0},
      {"t":3.90,"hi":0.1,"lo":-0.1},{"t":3.92,"hi":0.12,"lo":-0.08},{"t":3.94,"hi":0.1,"lo":-0.1},{"t":3.96,"hi":0.08,"lo":-0.1},{"t":3.98,"hi":0.12,"lo":-0.06},
      {"t":4.00,"hi":0.05,"lo":-0.05}
    ],
    "d": [
      {"t":0.00,"hi":0.25,"lo":-0.3},{"t":0.02,"hi":0.5,"lo":-0.52},{"t":0.04,"hi":0.43,"lo":-0.45},{"t":0.06,"hi":0.15,"lo":-0.5},{"t":0.08,"hi":0.02,"lo":-0.02},
      {"t":0.10,"hi":0.02,"lo":-0.17},{"t":0.12,"hi":1.0,"lo":-0.5},{"t":0.14,"hi":0.02,"lo":-0.02},{"t":0.16,"hi":1.0,"lo":-0.5},{"t":0.18,"hi":0.02,"lo":-0.03},
      {"t":0.20,"hi":0.03,"lo":-0.02},{"t":0.22,"hi":0.75,"lo":-0.35},{"t":0.24,"hi":0.02,"lo":-0.02},{"t":0.26,"hi":0.33,"lo":-0.28},{"t":0.28,"hi":0.02,"lo":-0.75},
      {"t":0.30,"hi":0.03,"lo":-0.02},{"t":0.32,"hi":0.02,"lo":-0.03},{"t":0.34,"hi":0.02,"lo":-0.75},{"t":0.36,"hi":0.05,"lo":-0.05},{"t":0.38,"hi":0.02,"lo":-0.03},
      {"t":0.40,"hi":1.0,"lo":-0.03},{"t":0.42,"hi":0.67,"lo":-0.2},{"t":0.44,"hi":0.28,"lo":-0.35},{"t":0.46,"hi":0.27,"lo":-0.45},{"t":0.48,"hi":0.26,"lo":-0.5},
      {"t":0.50,"hi":0.27,"lo":-0.3},{"t":0.52,"hi":0.28,"lo":-0.45},{"t":0.54,"hi":0.25,"lo":-0.35},{"t":0.56,"hi":0.2,"lo":-0.25},{"t":0.58,"hi":0.1,"lo":-0.15},
      {"t":0.60,"hi":0.05,"lo":-0.06},{"t":0.62,"hi":0.3,"lo":-0.45},{"t":0.64,"hi":0.3,"lo":-0.55},{"t":0.66,"hi":0.35,"lo":-0.7},{"t":0.68,"hi":0.4,"lo":-0.85},
      {"t":0.70,"hi":0.75,"lo":-0.9},{"t":0.72,"hi":0.5,"lo":-0.95},{"t":0.74,"hi":0.5,"lo":-1.0},{"t":0.76,"hi":0.55,"lo":-0.9},{"t":0.78,"hi":0.6,"lo":-0.85},
      {"t":0.80,"hi":0.65,"lo":-0.95},{"t":0.82,"hi":0.8,"lo":-1.0},{"t":0.84,"hi":1.0,"lo":-1.0},{"t":0.86,"hi":1.0,"lo":-0.95},{"t":0.88,"hi":1.0,"lo":-0.9},
      {"t":0.90,"hi":1.0,"lo":-1.0},{"t":0.92,"hi":1.0,"lo":-0.95},{"t":0.94,"hi":1.0,"lo":-0.9},{"t":0.96,"hi":0.7,"lo":-0.8},{"t":0.98,"hi":0.6,"lo":-0.75},
      {"t":1.00,"hi":0.55,"lo":-0.7},{"t":1.02,"hi":0.5,"lo":-0.8},{"t":1.04,"hi":0.65,"lo":-0.9},{"t":1.06,"hi":0.75,"lo":-0.95},{"t":1.08,"hi":0.6,"lo":-0.85},
      {"t":1.10,"hi":0.5,"lo":-0.7},{"t":1.12,"hi":0.7,"lo":-0.85},{"t":1.14,"hi":0.85,"lo":-0.95},{"t":1.16,"hi":1.0,"lo":-1.0},{"t":1.18,"hi":1.0,"lo":-0.97},
      {"t":1.20,"hi":1.0,"lo":-1.0},{"t":1.22,"hi":0.75,"lo":-0.8},{"t":1.24,"hi":0.4,"lo":-0.55},{"t":1.26,"hi":0.3,"lo":-0.4},{"t":1.28,"hi":0.2,"lo":-0.25},
      {"t":1.30,"hi":0.55,"lo":-0.3},{"t":1.32,"hi":0.25,"lo":-0.35},{"t":1.34,"hi":0.84,"lo":-0.3},{"t":1.36,"hi":0.3,"lo":-0.4},{"t":1.38,"hi":0.4,"lo":-0.55},
      {"t":1.40,"hi":0.55,"lo":-0.7},{"t":1.42,"hi":0.75,"lo":-0.9},{"t":1.44,"hi":0.85,"lo":-0.95},{"t":1.46,"hi":0.9,"lo":-1.0},{"t":1.48,"hi":0.85,"lo":-0.95},
      {"t":1.50,"hi":0.8,"lo":-0.9},{"t":1.52,"hi":0.6,"lo":-0.8},{"t":1.54,"hi":0.5,"lo":-0.65},{"t":1.56,"hi":0.4,"lo":-0.5},{"t":1.58,"hi":0.45,"lo":-0.6},
      {"t":1.60,"hi":0.5,"lo":-0.65},{"t":1.62,"hi":0.45,"lo":-0.6},{"t":1.64,"hi":0.4,"lo":-0.55},{"t":1.66,"hi":0.4,"lo":-0.5},{"t":1.68,"hi":0.45,"lo":-0.55},
      {"t":1.70,"hi":0.5,"lo":-0.6},{"t":1.72,"hi":0.93,"lo":-0.65},{"t":1.74,"hi":0.55,"lo":-0.7},{"t":1.76,"hi":0.5,"lo":-0.75},{"t":1.78,"hi":0.6,"lo":-0.8},
      {"t":1.80,"hi":0.85,"lo":-0.9},{"t":1.82,"hi":0.55,"lo":-0.85},{"t":1.84,"hi":0.5,"lo":-0.8},{"t":1.86,"hi":0.4,"lo":-0.6},{"t":1.88,"hi":0.3,"lo":-0.4},
      {"t":1.90,"hi":0.78,"lo":-0.3},{"t":1.92,"hi":0.2,"lo":-0.25},{"t":1.94,"hi":0.1,"lo":-0.15},{"t":1.96,"hi":0.8,"lo":-0.7},{"t":1.98,"hi":0.1,"lo":-0.1},
      {"t":2.00,"hi":0.2,"lo":-0.3},{"t":2.02,"hi":0.45,"lo":-0.65},{"t":2.04,"hi":0.5,"lo":-0.75},{"t":2.06,"hi":0.55,"lo":-0.85},{"t":2.08,"hi":0.5,"lo":-0.8},
      {"t":2.10,"hi":0.55,"lo":-0.85},{"t":2.12,"hi":0.5,"lo":-0.8},{"t":2.14,"hi":0.45,"lo":-0.75},{"t":2.16,"hi":0.5,"lo":-0.7},{"t":2.18,"hi":0.45,"lo":-0.65},
      {"t":2.20,"hi":0.4,"lo":-0.6},{"t":2.22,"hi":0.75,"lo":-0.55},{"t":2.24,"hi":0.3,"lo":-0.45},{"t":2.26,"hi":0.2,"lo":-0.3},{"t":2.28,"hi":0.1,"lo":-0.15},
      {"t":2.30,"hi":0.08,"lo":-0.1},{"t":2.32,"hi":0.05,"lo":-0.06},{"t":2.34,"hi":0.03,"lo":-0.04},{"t":2.36,"hi":0.02,"lo":-0.02},{"t":2.38,"hi":0.01,"lo":-0.01},
      {"t":2.40,"hi":0.01,"lo":-0.01},{"t":2.42,"hi":0.01,"lo":-0.01},{"t":2.44,"hi":0.01,"lo":-0.01},{"t":2.46,"hi":0.01,"lo":-0.01},{"t":2.48,"hi":0.01,"lo":-0.01},
      {"t":2.50,"hi":0.01,"lo":-0.01},{"t":2.52,"hi":0.55,"lo":-0.01},{"t":2.54,"hi":0.01,"lo":-0.01},{"t":2.56,"hi":0.02,"lo":-0.02},{"t":2.58,"hi":0.1,"lo":-0.2},
      {"t":2.60,"hi":0.15,"lo":-0.25},{"t":2.62,"hi":0.2,"lo":-0.3},{"t":2.64,"hi":0.25,"lo":-0.35},{"t":2.66,"hi":0.2,"lo":-0.3},{"t":2.68,"hi":0.3,"lo":-0.4},
      {"t":2.70,"hi":0.25,"lo":-0.35},{"t":2.72,"hi":0.3,"lo":-0.45},{"t":2.74,"hi":0.25,"lo":-0.4},{"t":2.76,"hi":0.2,"lo":-0.35},{"t":2.78,"hi":0.25,"lo":-0.4},
      {"t":2.80,"hi":0.15,"lo":-0.3},{"t":2.82,"hi":0.1,"lo":-0.2},{"t":2.84,"hi":0.1,"lo":-0.15},{"t":2.86,"hi":0.05,"lo":-0.06},{"t":2.88,"hi":0.5,"lo":-0.6},
      {"t":2.90,"hi":0.55,"lo":-0.65},{"t":2.92,"hi":0.6,"lo":-0.7},{"t":2.94,"hi":0.55,"lo":-0.8},{"t":2.96,"hi":0.6,"lo":-0.9},{"t":2.98,"hi":0.55,"lo":-0.85},
      {"t":3.00,"hi":0.6,"lo":-0.75},{"t":3.02,"hi":0.65,"lo":-0.7},{"t":3.04,"hi":0.7,"lo":-0.85},{"t":3.06,"hi":0.75,"lo":-0.85},{"t":3.08,"hi":0.8,"lo":-0.9},
      {"t":3.10,"hi":0.85,"lo":-0.85},{"t":3.12,"hi":0.88,"lo":-0.9},{"t":3.14,"hi":0.85,"lo":-0.9},{"t":3.16,"hi":0.8,"lo":-0.8},{"t":3.18,"hi":0.75,"lo":-0.7},
      {"t":3.20,"hi":0.8,"lo":-0.85},{"t":3.22,"hi":0.6,"lo":-0.8},{"t":3.24,"hi":0.5,"lo":-0.65},{"t":3.26,"hi":0.4,"lo":-0.55},{"t":3.28,"hi":0.3,"lo":-0.4},
      {"t":3.30,"hi":0.25,"lo":-0.35},{"t":3.32,"hi":0.3,"lo":-0.4},{"t":3.34,"hi":0.35,"lo":-0.45},{"t":3.36,"hi":0.3,"lo":-0.4},{"t":3.38,"hi":0.4,"lo":-0.55},
      {"t":3.40,"hi":0.5,"lo":-0.7},{"t":3.42,"hi":0.6,"lo":-0.8},{"t":3.44,"hi":0.7,"lo":-0.85},{"t":3.46,"hi":0.75,"lo":-0.9},{"t":3.48,"hi":0.65,"lo":-0.85},
      {"t":3.50,"hi":0.6,"lo":-0.8},{"t":3.52,"hi":0.5,"lo":-0.7},{"t":3.54,"hi":0.4,"lo":-0.55},{"t":3.56,"hi":0.3,"lo":-0.4},{"t":3.58,"hi":0.15,"lo":-0.2},
      {"t":3.60,"hi":0.1,"lo":-0.12},{"t":3.62,"hi":0.12,"lo":-0.15},{"t":3.64,"hi":0.1,"lo":-0.1},{"t":3.66,"hi":0.15,"lo":-0.2},{"t":3.68,"hi":0.2,"lo":-0.3},
      {"t":3.70,"hi":0.3,"lo":-0.4},{"t":3.72,"hi":0.5,"lo":-0.6},{"t":3.74,"hi":0.9,"lo":-0.9},{"t":3.76,"hi":1.0,"lo":-1.0},{"t":3.78,"hi":1.0,"lo":-1.0},
      {"t":3.80,"hi":1.0,"lo":-0.95},{"t":3.82,"hi":1.0,"lo":-1.0},{"t":3.84,"hi":0.6,"lo":-0.8},{"t":3.86,"hi":0.3,"lo":-0.4},{"t":3.88,"hi":0.15,"lo":-0.2},
      {"t":3.90,"hi":0.1,"lo":-0.1},{"t":3.92,"hi":0.12,"lo":-0.08},{"t":3.94,"hi":0.1,"lo":-0.1},{"t":3.96,"hi":0.08,"lo":-0.1},{"t":3.98,"hi":0.12,"lo":-0.06},
      {"t":4.00,"hi":0.05,"lo":-0.05}
    ]
  },
  "concat": [
    {
      "width": 672, "height": 615,
      "data": {"name": "a"},
      "title": {"text": "a- 2DH₁ [No interleaving], Cr=0.953.", "offset": 26, "dx": -40},
      "layer": [
        {
          "mark": {"type": "rule", "strokeWidth": 1.8},
          "encoding": {
            "x": {"field": "t", "type": "quantitative", "title": null, "scale": {"domain": [0, 4], "nice": false, "zero": false},
                  "axis": {"orient": "bottom", "values": [0, 0.5, 1, 1.5, 2, 2.5, 3, 3.5, 4], "labelExpr": "format(datum.value, '~g')", "labelPadding": 14}},
            "y": {"field": "lo", "type": "quantitative", "title": null, "scale": {"domain": [-1, 1], "nice": false, "zero": false},
                  "axis": {"orient": "left", "values": [-1, -0.8, -0.6, -0.4, -0.2, 0, 0.2, 0.4, 0.6, 0.8, 1], "labelExpr": "datum.value < 0 ? '-' + format(-datum.value, '~g') : format(datum.value, '~g')", "labelPadding": 11}},
            "y2": {"field": "hi"},
            "color": {"datum": "2DH1[ No interleaving] Vc=3 m/h", "type": "nominal", "scale": {"range": ["#0000ff"]}, "legend": {"title": null}}
          }
        },
        {"mark": {"type": "rule", "color": "#0000ff", "strokeWidth": 1.2}, "encoding": {"y": {"datum": 0, "type": "quantitative", "axis": null}}},
        {
          "mark": {"type": "point", "opacity": 0},
          "encoding": {
            "x": {"datum": 0, "type": "quantitative", "axis": {"orient": "top", "values": [0, 0.5, 1, 1.5, 2, 2.5, 3, 3.5, 4], "labels": false, "title": null}},
            "y": {"datum": 0, "type": "quantitative", "axis": {"orient": "right", "values": [-1, -0.8, -0.6, -0.4, -0.2, 0, 0.2, 0.4, 0.6, 0.8, 1], "labels": false, "title": null}}
          }
        }
      ],
      "resolve": {"axis": {"x": "independent", "y": "independent"}}
    },
    {
      "width": 672, "height": 615,
      "data": {"name": "b"},
      "title": {"text": "b- 2DM₁ [No interleaving], Cr=0.957.", "offset": 26, "dx": -54},
      "layer": [
        {
          "mark": {"type": "rule", "strokeWidth": 1.8},
          "encoding": {
            "x": {"field": "t", "type": "quantitative", "title": null, "scale": {"domain": [0, 4], "nice": false, "zero": false},
                  "axis": {"orient": "bottom", "values": [0, 0.5, 1, 1.5, 2, 2.5, 3, 3.5, 4], "labelExpr": "format(datum.value, '~g')", "labelPadding": 14}},
            "y": {"field": "lo", "type": "quantitative", "title": null, "scale": {"domain": [-1, 1], "nice": false, "zero": false},
                  "axis": {"orient": "left", "values": [-1, -0.8, -0.6, -0.4, -0.2, 0, 0.2, 0.4, 0.6, 0.8, 1], "labelExpr": "datum.value < 0 ? '-' + format(-datum.value, '~g') : format(datum.value, '~g')", "labelPadding": 11}},
            "y2": {"field": "hi"},
            "color": {"datum": "2DM1[ No interleaving] Vc=3 m/h", "type": "nominal", "scale": {"range": ["#0000ff"]}, "legend": {"title": null}}
          }
        },
        {"mark": {"type": "rule", "color": "#0000ff", "strokeWidth": 1.2}, "encoding": {"y": {"datum": 0, "type": "quantitative", "axis": null}}},
        {
          "mark": {"type": "point", "opacity": 0},
          "encoding": {
            "x": {"datum": 0, "type": "quantitative", "axis": {"orient": "top", "values": [0, 0.5, 1, 1.5, 2, 2.5, 3, 3.5, 4], "labels": false, "title": null}},
            "y": {"datum": 0, "type": "quantitative", "axis": {"orient": "right", "values": [-1, -0.8, -0.6, -0.4, -0.2, 0, 0.2, 0.4, 0.6, 0.8, 1], "labels": false, "title": null}}
          }
        }
      ],
      "resolve": {"axis": {"x": "independent", "y": "independent"}}
    },
    {
      "width": 672, "height": 615,
      "data": {"name": "c"},
      "title": {"text": "c- 2DM₁[Block interleaving], Cr=0.97.", "offset": 46, "dx": -6},
      "layer": [
        {
          "mark": {"type": "rule", "strokeWidth": 1.8},
          "encoding": {
            "x": {"field": "t", "type": "quantitative", "title": null, "scale": {"domain": [0, 4], "nice": false, "zero": false},
                  "axis": {"orient": "bottom", "values": [0, 0.5, 1, 1.5, 2, 2.5, 3, 3.5, 4], "labelExpr": "format(datum.value, '~g')", "labelPadding": 14}},
            "y": {"field": "lo", "type": "quantitative", "title": null, "scale": {"domain": [-1, 1], "nice": false, "zero": false},
                  "axis": {"orient": "left", "values": [-1, -0.8, -0.6, -0.4, -0.2, 0, 0.2, 0.4, 0.6, 0.8, 1], "labelExpr": "datum.value < 0 ? '-' + format(-datum.value, '~g') : format(datum.value, '~g')", "labelPadding": 11}},
            "y2": {"field": "hi"},
            "color": {"datum": "2DM1[ Block interleaving] Vc=3 m/h", "type": "nominal", "scale": {"range": ["#0000ff"]}, "legend": {"title": null}}
          }
        },
        {"mark": {"type": "rule", "color": "#0000ff", "strokeWidth": 1.2}, "encoding": {"y": {"datum": 0, "type": "quantitative", "axis": null}}},
        {
          "mark": {"type": "point", "opacity": 0},
          "encoding": {
            "x": {"datum": 0, "type": "quantitative", "axis": {"orient": "top", "values": [0, 0.5, 1, 1.5, 2, 2.5, 3, 3.5, 4], "labels": false, "title": null}},
            "y": {"datum": 0, "type": "quantitative", "axis": {"orient": "right", "values": [-1, -0.8, -0.6, -0.4, -0.2, 0, 0.2, 0.4, 0.6, 0.8, 1], "labels": false, "title": null}}
          }
        }
      ],
      "resolve": {"axis": {"x": "independent", "y": "independent"}}
    },
    {
      "width": 672, "height": 615,
      "data": {"name": "d"},
      "title": {"text": "d- 2DM₁[Chaotic randomizing], Cr=0.98.", "offset": 46, "dx": -40},
      "layer": [
        {
          "mark": {"type": "rule", "strokeWidth": 1.8},
          "encoding": {
            "x": {"field": "t", "type": "quantitative", "title": null, "scale": {"domain": [0, 4], "nice": false, "zero": false},
                  "axis": {"orient": "bottom", "values": [0, 0.5, 1, 1.5, 2, 2.5, 3, 3.5, 4], "labelExpr": "format(datum.value, '~g')", "labelPadding": 14}},
            "y": {"field": "lo", "type": "quantitative", "title": null, "scale": {"domain": [-1, 1], "nice": false, "zero": false},
                  "axis": {"orient": "left", "values": [-1, -0.8, -0.6, -0.4, -0.2, 0, 0.2, 0.4, 0.6, 0.8, 1], "labelExpr": "datum.value < 0 ? '-' + format(-datum.value, '~g') : format(datum.value, '~g')", "labelPadding": 11}},
            "y2": {"field": "hi"},
            "color": {"datum": "2DM1[ Chaotic interleaving] Vc=3 m/h", "type": "nominal", "scale": {"range": ["#0000ff"]}, "legend": {"title": null}}
          }
        },
        {"mark": {"type": "rule", "color": "#0000ff", "strokeWidth": 1.2}, "encoding": {"y": {"datum": 0, "type": "quantitative", "axis": null}}},
        {
          "mark": {"type": "point", "opacity": 0},
          "encoding": {
            "x": {"datum": 0, "type": "quantitative", "axis": {"orient": "top", "values": [0, 0.5, 1, 1.5, 2, 2.5, 3, 3.5, 4], "labels": false, "title": null}},
            "y": {"datum": 0, "type": "quantitative", "axis": {"orient": "right", "values": [-1, -0.8, -0.6, -0.4, -0.2, 0, 0.2, 0.4, 0.6, 0.8, 1], "labels": false, "title": null}}
          }
        }
      ],
      "resolve": {"axis": {"x": "independent", "y": "independent"}}
    }
  ]
}
